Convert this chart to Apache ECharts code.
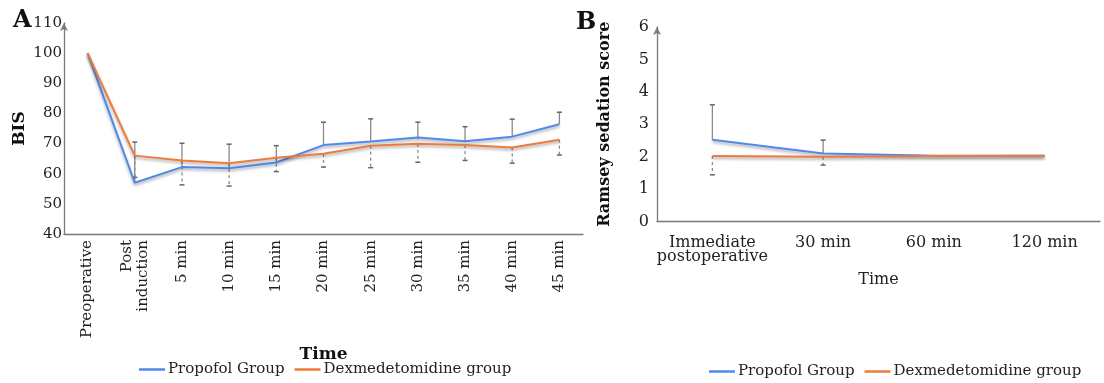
<!DOCTYPE html>
<html>
<head>
<meta charset="utf-8">
<script src="https://cdn.jsdelivr.net/npm/echarts@6/dist/echarts.min.js"></script>
<style>
  html, body { margin: 0; padding: 0; background: #fff; }
</style>
</head>
<body>
<div id="chart" style="width: 1104px; height: 383px;"></div>
<script>
// A: BIS over time
const timeA = ['Preoperative', 'Post\ninduction', '5 min', '10 min', '15 min', '20 min', '25 min', '30 min', '35 min', '40 min', '45 min'];
const propofolBIS = [100, 57, 62.2, 61.8, 63.7, 69.5, 70.7, 72.0, 70.8, 72.3, 76.4];
const dexBIS = [100, 66.0, 64.4, 63.5, 65.3, 66.6, 69.3, 69.9, 69.5, 68.7, 71.3];
const propofolBISsd = [0, 13.5, 7.9, 8.0, 5.6, 7.6, 7.5, 5.1, 4.8, 5.8, 4.0];
const dexBISsd = [0, 7.2, 8.1, 7.6, 4.6, 4.4, 7.3, 6.1, 5.1, 5.2, 5.1];

// B: Ramsey sedation score
const timeB = ['Immediate\npostoperative', '30 min', '60 min', '120 min'];
const propofolRamsey = [2.52, 2.1, 2.03, 2.03];
const dexRamsey = [2.02, 2.0, 2.02, 2.03];
const propofolRamseySd = [1.08, 0.41, 0, 0];
const dexRamseySd = [0.58, 0.26, 0, 0];

const FONT = "'DejaVu Serif', serif";
const BLUE = '#5089ee';
const ORANGE = '#ee7b3c';

const chart = echarts.init(document.getElementById('chart'), null, { renderer: 'canvas' });

// error bar: sign 1 = up (solid), -1 = down (dashed)
function errorBar(sign) {
  return function (params, api) {
    const i = api.value(0), m = api.value(1), sd = api.value(2);
    if (!sd) return null;
    const p0 = api.coord([i, m]);
    const p1 = api.coord([i, m + sign * sd]);
    return {
      type: 'group',
      children: [
        { type: 'line', shape: { x1: p0[0], y1: p0[1], x2: p1[0], y2: p1[1] },
          style: { stroke: '#8a8a8a', lineWidth: 1.3, lineDash: sign < 0 ? [3, 3] : null } },
        { type: 'line', shape: { x1: p1[0] - 2.5, y1: p1[1], x2: p1[0] + 2.5, y2: p1[1] },
          style: { stroke: '#666', lineWidth: 1.5 } }
      ]
    };
  };
}

function lineSeries(name, data, color, idx) {
  return {
    name: name, type: 'line', data: data,
    xAxisIndex: idx, yAxisIndex: idx,
    symbol: 'none', z: 3, color: color,
    lineStyle: { width: 2, color: color, shadowColor: 'rgba(0,0,0,0.35)', shadowBlur: 3, shadowOffsetY: 2 }
  };
}

function errSeries(mean, sd, sign, idx) {
  return {
    type: 'custom', xAxisIndex: idx, yAxisIndex: idx, z: 2,
    renderItem: errorBar(sign),
    encode: { x: 0, y: 1 },
    data: mean.map((m, i) => [i, m, sd[i]])
  };
}

const axisLine = { lineStyle: { color: '#7a7a7a', width: 1.3 } };
const legendText = { fontFamily: FONT, fontSize: 15, color: '#222', padding: [0, 0, 0, -2] };

const option = {
  animation: false,
  title: [
    { text: 'A', left: 8, top: 4, textStyle: { fontFamily: FONT, fontWeight: 'bold', fontSize: 24, color: '#111' } },
    { text: 'B', left: 571, top: 6, textStyle: { fontFamily: FONT, fontWeight: 'bold', fontSize: 24, color: '#111' } }
  ],
  legend: [
    { left: 139, top: 362, padding: 0, itemWidth: 26, itemHeight: 2.5, itemGap: 10, icon: 'rect',
      data: ['Propofol Group', 'Dexmedetomidine group'], textStyle: legendText },
    { left: 709, top: 364, padding: 0, itemWidth: 26, itemHeight: 2.5, itemGap: 10, icon: 'rect',
      data: ['Propofol Group', 'Dexmedetomidine group'], textStyle: legendText }
  ],
  grid: [
    { left: 64, top: 23, width: 519, height: 211 },
    { left: 657, top: 27, width: 443, height: 194.5 }
  ],
  xAxis: [
    {
      gridIndex: 0, type: 'category', data: timeA, boundaryGap: true,
      name: 'Time', nameLocation: 'middle', nameGap: 100,
      nameTextStyle: { fontFamily: FONT, fontWeight: 'bold', fontSize: 17, color: '#111' },
      axisLine: axisLine, axisTick: { show: false },
      axisLabel: { rotate: 90, margin: 6, interval: 0, fontFamily: FONT, fontSize: 15, color: '#222', lineHeight: 16 }
    },
    {
      gridIndex: 1, type: 'category', data: timeB, boundaryGap: true,
      name: 'Time', nameLocation: 'middle', nameGap: 50,
      nameTextStyle: { fontFamily: FONT, fontSize: 16, color: '#222' },
      axisLine: axisLine, axisTick: { show: false },
      axisLabel: { margin: 14, interval: 0, fontFamily: FONT, fontSize: 16, color: '#222', lineHeight: 14 }
    }
  ],
  yAxis: [
    {
      gridIndex: 0, type: 'value', min: 40, max: 110, interval: 10,
      name: 'BIS', nameLocation: 'middle', nameGap: 36, nameRotate: 90,
      nameTextStyle: { fontFamily: FONT, fontWeight: 'bold', fontSize: 17, color: '#111' },
      axisLine: Object.assign({ show: true, symbol: ['none', 'arrow'], symbolSize: [6, 8] }, axisLine),
      axisTick: { show: false }, splitLine: { show: false },
      axisLabel: { margin: 2, fontFamily: FONT, fontSize: 15, color: '#222' }
    },
    {
      gridIndex: 1, type: 'value', min: 0, max: 6, interval: 1,
      name: 'Ramsey sedation score', nameLocation: 'middle', nameGap: 44, nameRotate: 90,
      nameTextStyle: { fontFamily: FONT, fontWeight: 'bold', fontSize: 16, color: '#111' },
      axisLine: Object.assign({ show: true, symbol: ['none', 'arrow'], symbolSize: [6, 8] }, axisLine),
      axisTick: { show: false }, splitLine: { show: false },
      axisLabel: { margin: 8, fontFamily: FONT, fontSize: 16, color: '#222' }
    }
  ],
  series: [
    errSeries(propofolBIS, propofolBISsd, 1, 0),
    errSeries(dexBIS, dexBISsd, -1, 0),
    lineSeries('Propofol Group', propofolBIS, BLUE, 0),
    lineSeries('Dexmedetomidine group', dexBIS, ORANGE, 0),
    errSeries(propofolRamsey, propofolRamseySd, 1, 1),
    errSeries(dexRamsey, dexRamseySd, -1, 1),
    lineSeries('Propofol Group', propofolRamsey, BLUE, 1),
    lineSeries('Dexmedetomidine group', dexRamsey, ORANGE, 1)
  ]
};

chart.setOption(option);
</script>
</body>
</html>
